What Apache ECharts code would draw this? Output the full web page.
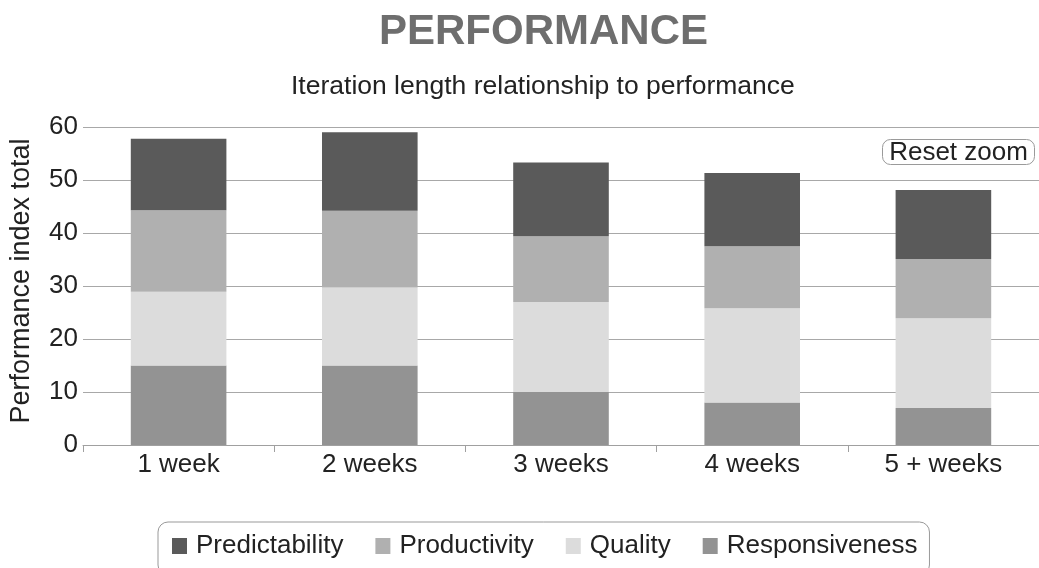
<!DOCTYPE html>
<html>
<head>
<meta charset="utf-8">
<title>Performance</title>
<script src="https://cdn.jsdelivr.net/npm/echarts@6/dist/echarts.min.js"></script>
<style>
  html, body { margin: 0; padding: 0; background: #ffffff; }
  #chart { width: 1039px; height: 568px; }
</style>
</head>
<body>
<div id="chart"></div>
<script>
// Iteration length categories
const categories = ['1 week', '2 weeks', '3 weeks', '4 weeks', '5 + weeks'];

// Performance index components per iteration length (stacked bottom to top)
const responsiveness = [15, 15, 10, 8, 7];
const quality = [13.9, 14.7, 17, 17.8, 16.9];
const productivity = [15.4, 14.5, 12.4, 11.7, 11.2];
const predictability = [13.5, 14.8, 13.9, 13.8, 13.0];

// Legend order as displayed
const legendOrder = ['Predictability', 'Productivity', 'Quality', 'Responsiveness'];

const FONT = '"Liberation Sans", Arial, Helvetica, sans-serif';
const chart = echarts.init(document.getElementById('chart'), null, { renderer: 'canvas' });

function barSeries(name, data, color) {
  return {
    name: name,
    type: 'bar',
    stack: 'total',
    data: data,
    barWidth: '50%',
    itemStyle: { color: color },
    emphasis: { disabled: true }
  };
}

chart.setOption({
  animation: false,
  backgroundColor: '#ffffff',
  title: [
    {
      text: 'PERFORMANCE',
      left: 374,
      top: 6,
      textStyle: { fontFamily: FONT, fontSize: 42, fontWeight: 'bold', color: '#6e6e6e' }
    },
    {
      text: 'Iteration length relationship to performance',
      left: 286,
      top: 68,
      textStyle: { fontFamily: FONT, fontSize: 26.5, fontWeight: 'normal', color: '#222222' }
    }
  ],
  legend: {
    data: legendOrder,
    left: 158,
    top: 522,
    orient: 'horizontal',
    padding: [11, 12, 16, 14],
    itemGap: 32,
    itemWidth: 15,
    itemHeight: 16,
    icon: 'rect',
    borderColor: '#999999',
    borderWidth: 1,
    borderRadius: 10,
    textStyle: { fontFamily: FONT, fontSize: 26, color: '#222222', padding: [0, 0, 0, 4] },
    selectedMode: false
  },
  grid: { left: 82, right: -5, top: 127, bottom: 123, containLabel: false },
  xAxis: {
    type: 'category',
    data: categories,
    axisLine: { show: true, lineStyle: { color: '#a0a0a0', width: 1 } },
    axisTick: { show: true, alignWithLabel: false, length: 7, lineStyle: { color: '#a0a0a0' } },
    axisLabel: { fontFamily: FONT, fontSize: 26, color: '#222222', margin: 7 }
  },
  yAxis: {
    type: 'value',
    min: 0,
    max: 60,
    interval: 10,
    name: 'Performance index total',
    nameLocation: 'middle',
    nameGap: 48,
    nameTextStyle: { fontFamily: FONT, fontSize: 27, color: '#222222', padding: [0, 0, 0, 10] },
    axisLine: { show: false },
    axisTick: { show: false },
    axisLabel: { fontFamily: FONT, fontSize: 26, color: '#222222', margin: 5, padding: [5, 0, 0, 0] },
    splitLine: { show: true, lineStyle: { color: '#a8a8a8', width: 1 } }
  },
  series: [
    barSeries('Responsiveness', responsiveness, '#939393'),
    barSeries('Quality', quality, '#dcdcdc'),
    barSeries('Productivity', productivity, '#b0b0b0'),
    barSeries('Predictability', predictability, '#5a5a5a')
  ],
  graphic: [
    {
      type: 'group',
      left: 882,
      top: 139,
      children: [
        {
          type: 'rect',
          shape: { x: 0, y: 0, width: 152, height: 25, r: 8 },
          style: { fill: '#ffffff', stroke: '#9a9a9a', lineWidth: 1 }
        },
        {
          type: 'text',
          x: 76,
          y: 13,
          style: {
            text: 'Reset zoom',
            fontFamily: FONT,
            fontSize: 26,
            fill: '#222222',
            align: 'center',
            verticalAlign: 'middle'
          }
        }
      ]
    }
  ]
});
</script>
</body>
</html>
